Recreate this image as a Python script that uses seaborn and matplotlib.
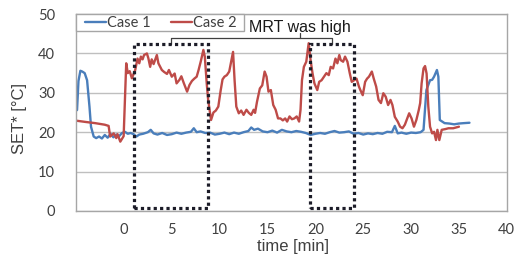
import pandas as pd
import matplotlib
matplotlib.use("Agg")
import matplotlib.pyplot as plt
import seaborn as sns
from matplotlib.patches import Rectangle

# Case 1 (blue) - time [min], SET* [degC]
case1_time = [-4.9, -4.75, -4.55, -4.35, -4.1, -3.85, -3.6, -3.44, -3.16, -2.9,
              -2.6, -2.3, -2.0, -1.7, -1.4, -1.1, -0.8, -0.5, -0.2, 0.1,
              0.4, 0.7, 1.0, 1.3, 1.6, 2.0, 2.5, 2.8, 3.1, 3.5,
              4.0, 4.5, 5.0, 5.5, 6.0, 6.5, 7.0, 7.3, 7.6, 8.0,
              8.5, 9.0, 9.5, 10.0, 10.5, 11.0, 11.5, 12.0, 12.5, 13.0,
              13.3, 13.6, 14.0, 14.5, 15.0, 15.5, 16.0, 16.5, 17.0, 17.5,
              18.0, 18.5, 19.0, 19.5, 20.0, 20.5, 21.0, 21.5, 22.0, 22.5,
              23.0, 23.5, 24.0, 24.5, 25.0, 25.5, 26.0, 26.5, 27.0, 27.5,
              28.0, 28.3, 28.6, 29.0, 29.5, 30.0, 30.5, 31.0, 31.3, 31.6,
              31.98, 32.2, 32.4, 32.7, 32.85, 33.0, 33.5, 34.0, 34.5, 35.0,
              35.5, 36.1]
case1_set = [25.6, 33.0, 35.6, 35.4, 35.0, 33.2, 26.5, 21.4, 18.9, 18.5,
             18.9, 18.4, 19.3, 18.6, 19.6, 18.7, 19.4, 19.0, 19.8, 20.1,
             19.6, 19.8, 19.5, 18.9, 19.4, 19.6, 20.0, 20.6, 19.7, 19.4,
             19.8, 19.3, 19.5, 19.9, 19.6, 19.9, 20.1, 21.0, 20.0, 20.2,
             19.8, 19.9, 19.4, 19.6, 19.9, 19.5, 19.9, 19.6, 20.0, 20.3,
             21.2, 20.6, 20.9, 20.2, 20.0, 20.4, 19.9, 20.6, 20.2, 20.0,
             20.3, 20.1, 19.8, 19.3, 19.6, 19.8, 19.6, 20.0, 20.3, 19.9,
             20.0, 20.2, 19.6, 19.8, 19.4, 19.7, 19.5, 19.8, 19.6, 20.1,
             20.0, 21.6, 19.7, 19.9, 19.6, 19.9, 19.8, 20.0, 20.6, 30.7,
             33.2, 33.3, 34.1, 35.8, 34.1, 23.1, 22.3, 22.2, 22.0, 22.2,
             22.3, 22.4]

# Case 2 (red)
case2_time = [-4.9, -4.0, -3.0, -2.0, -1.6, -1.44, -1.07, -0.8, -0.67, -0.38,
              -0.03, 0.14, 0.24, 0.4, 0.6, 0.83, 1.18, 1.42, 1.6, 1.77,
              1.95, 2.1, 2.4, 2.55, 2.74, 2.9, 3.1, 3.44, 3.6, 3.96,
              4.2, 4.5, 4.7, 5.0, 5.3, 5.5, 5.8, 6.0, 6.25, 6.6,
              6.85, 7.1, 7.35, 7.6, 7.8, 8.05, 8.3, 8.45, 8.65, 8.8,
              9.1, 9.35, 9.6, 9.86, 10.1, 10.3, 10.5, 10.75, 11.0, 11.2,
              11.4, 11.56, 11.74, 12.0, 12.25, 12.5, 12.8, 13.05, 13.3, 13.55,
              13.7, 13.9, 14.2, 14.45, 14.7, 14.9, 15.1, 15.35, 15.6, 15.85,
              16.1, 16.35, 16.6, 16.85, 17.05, 17.3, 17.55, 17.8, 18.05, 18.3,
              18.45, 18.6, 18.8, 19.05, 19.3, 19.5, 19.7, 19.9, 20.2, 20.4,
              20.65, 20.9, 21.15, 21.4, 21.6, 21.85, 22.1, 22.3, 22.5, 22.65,
              22.9, 23.1, 23.35, 23.6, 23.8, 24.05, 24.3, 24.55, 24.7, 24.95,
              25.2, 25.4, 25.6, 25.9, 26.1, 26.35, 26.6, 26.85, 27.1, 27.35,
              27.6, 27.85, 28.05, 28.3, 28.6, 28.85, 29.1, 29.35, 29.6, 29.8,
              30.05, 30.3, 30.55, 30.8, 30.95, 31.1, 31.3, 31.46, 31.62, 31.8,
              31.98, 32.2, 32.4, 32.6, 32.75, 32.95, 33.2, 33.6, 33.9, 34.4,
              35.0]
case2_set = [22.9, 22.6, 22.3, 21.9, 21.6, 18.9, 19.7, 18.5, 19.5, 17.6,
             19.0, 30.7, 37.5, 35.0, 35.5, 33.7, 35.8, 38.7, 37.5, 39.2,
             38.5, 39.6, 40.0, 38.8, 36.6, 38.5, 37.3, 39.6, 37.5, 35.8,
             35.3, 34.8, 35.8, 34.1, 34.9, 32.4, 33.3, 34.2, 32.5, 30.3,
             32.0, 33.0, 33.6, 34.1, 35.8, 38.2, 40.9, 39.2, 32.4, 28.2,
             23.1, 25.0, 25.5, 26.5, 30.5, 33.4, 34.1, 34.5, 35.4, 37.9,
             40.4, 33.2, 26.5, 24.8, 25.5, 24.4, 25.7, 24.9, 24.4, 25.7,
             24.9, 27.7, 31.1, 31.9, 35.4, 34.1, 30.3, 30.7, 26.9, 25.7,
             23.5, 23.5, 23.0, 23.5, 22.7, 24.0, 23.3, 23.5, 24.0, 22.7,
             25.7, 33.2, 36.6, 37.9, 42.6, 38.3, 35.0, 32.4, 30.7, 32.8,
             33.2, 34.1, 35.0, 34.5, 36.6, 36.2, 38.7, 37.5, 39.6, 38.3,
             37.9, 39.2, 37.9, 34.9, 32.8, 33.2, 33.6, 31.6, 30.7, 29.4,
             32.8, 33.6, 34.1, 35.4, 33.6, 31.6, 28.2, 27.4, 29.9, 29.0,
             26.9, 28.2, 26.9, 23.9, 22.7, 21.4, 21.0, 21.9, 23.5, 24.8,
             23.5, 21.4, 23.1, 25.6, 27.4, 32.4, 36.2, 36.8, 34.9, 26.5,
             21.4, 19.7, 20.1, 18.0, 20.6, 18.0, 20.6, 20.8, 21.0, 21.0,
             21.4]

case_labels = ["Case 1", "Case 2"]
case_colors = ["#4a7ebb", "#be4b48"]

# periods when MRT was high (dotted boxes)
high_start = [1.0, 19.4]
high_end = [8.8, 24.0]
box_bottom = 0.8
box_top = 42.4
note_text = "MRT was high"
note_x = 18.4

x_ticks = [0, 5, 10, 15, 20, 25, 30, 35, 40]
y_ticks = [0, 10, 20, 30, 40, 50]


def main():
    df = pd.concat([
        pd.DataFrame({"time": case1_time, "SET": case1_set, "case": case_labels[0]}),
        pd.DataFrame({"time": case2_time, "SET": case2_set, "case": case_labels[1]}),
    ], ignore_index=True)

    sns.set_style("white")
    plt.rcParams["font.family"] = ["Lato", "DejaVu Sans"]

    fig = plt.figure(figsize=(5.14, 2.56), dpi=100)
    ax = fig.add_axes([0.148, 0.176, 0.838, 0.769])

    sns.lineplot(data=df, x="time", y="SET", hue="case", palette=case_colors,
                 estimator=None, sort=False, linewidth=1.7, legend=False, ax=ax)

    ax.set_xlim(-5, 40)
    ax.set_ylim(0, 50)
    ax.set_xticks(x_ticks)
    ax.set_yticks(y_ticks)
    ax.yaxis.grid(True, color="#bfbfbf", linewidth=1.0)
    ax.set_axisbelow(True)
    for s in ax.spines.values():
        s.set_color("#a6a6a6")
        s.set_linewidth(1.0)
    ax.tick_params(axis="x", direction="out", length=3, color="#a6a6a6",
                   labelsize=10.5, labelcolor="#404040", pad=6)
    ax.tick_params(axis="y", length=0, labelsize=10.5, labelcolor="#404040", pad=15)

    ax.set_xlabel("time [min]", fontsize=12, family="Liberation Sans", color="#404040")
    ax.set_ylabel("SET* [°C]", fontsize=12, family="Liberation Sans", color="#404040")
    ax.xaxis.set_label_coords(0.503, -0.14)
    ax.yaxis.set_label_coords(-0.115, 0.47)

    # dotted boxes
    for x0, x1 in zip(high_start, high_end):
        ax.add_patch(Rectangle((x0, box_bottom), x1 - x0, box_top - box_bottom,
                               fill=False, edgecolor="#1c1c28", linewidth=2.3,
                               linestyle=(0, (1, 1)), zorder=5))

    # leader bracket for the label
    centers = [(a + b) / 2 for a, b in zip(high_start, high_end)]
    bracket_y = box_top + 1.5
    ax.plot([centers[0], centers[0], centers[1], centers[1]],
            [box_top, bracket_y, bracket_y, box_top],
            color="#404040", linewidth=0.9, zorder=4)
    ax.plot([note_x, note_x], [bracket_y, bracket_y + 1.3],
            color="#404040", linewidth=0.9, zorder=4)
    ax.text(note_x, bracket_y + 1.6, note_text, ha="center", va="baseline",
            fontsize=11.5, family="Liberation Sans", color="#1a1a1a")

    # legend box
    ax.add_patch(Rectangle((0.0, 0.914), 0.39, 0.086, transform=ax.transAxes,
                           facecolor="white", edgecolor="#a6a6a6", linewidth=1.0,
                           zorder=6, clip_on=False))
    handles = [plt.Line2D([], [], color=c, linewidth=1.7) for c in case_colors]
    leg = ax.legend(handles, case_labels, loc="center", bbox_to_anchor=(0.197, 0.955),
                    ncol=2, frameon=False, fontsize=10.5, handlelength=1.4,
                    handletextpad=0.1, columnspacing=1.4, borderpad=0)
    leg.set_zorder(7)
    for t in leg.get_texts():
        t.set_color("#404040")

    fig.savefig("out.png", dpi=100)
    plt.close(fig)


if __name__ == "__main__":
    main()
